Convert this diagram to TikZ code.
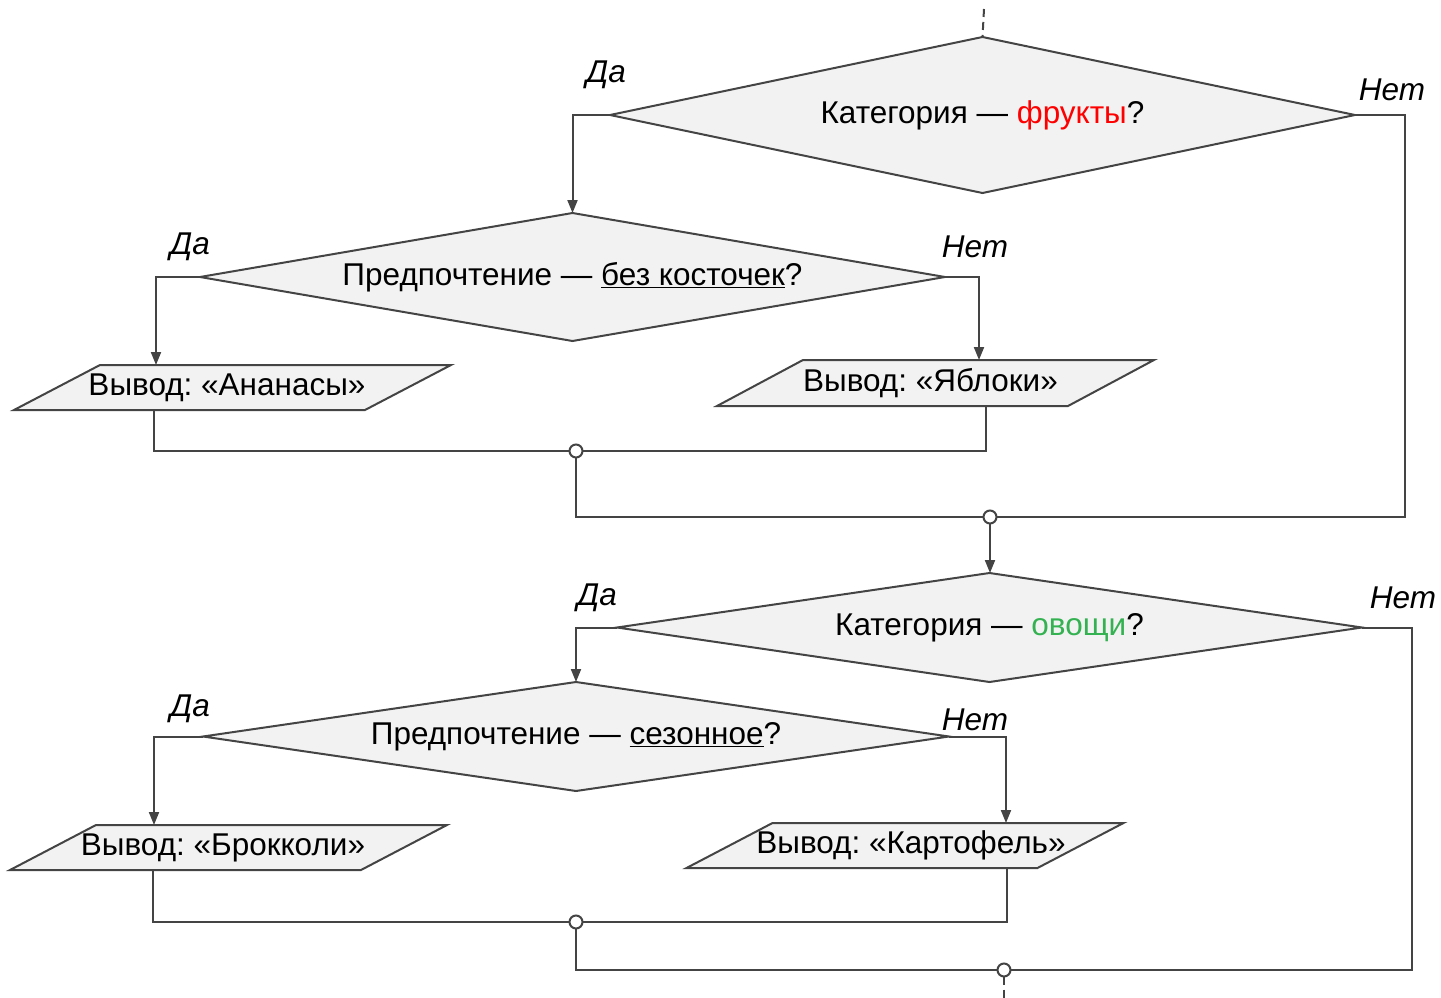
\documentclass[tikz,border=0pt]{standalone}
\usepackage{fontspec}
\setmainfont{Liberation Sans}
\usetikzlibrary{shapes.geometric,arrows.meta,backgrounds}
\definecolor{ln}{HTML}{444444}
\definecolor{fl}{HTML}{F2F2F2}
\definecolor{grn}{RGB}{52,178,82}
\frenchspacing
\tikzset{
  base/.style={line width=2pt, draw=ln},
  dec/.style={diamond, base, fill=fl, inner sep=0pt, outer sep=0pt, font=\fontsize{31.5}{36}\selectfont},
  iobox/.style={rectangle, inner sep=0pt, outer sep=0pt, minimum height=45pt, minimum width=351pt, font=\fontsize{31.5}{36}\selectfont},
  para/.style={base, fill=fl},
  junc/.style={circle, base, fill=white, minimum size=13pt, inner sep=0pt, outer sep=0pt},
  lbl/.style={font=\fontsize{31.5}{36}\selectfont\itshape, inner sep=0pt},
  conn/.style={base},
  arr/.style={base, -{Triangle[length=13pt,width=10pt]}},
  dsh/.style={base, dash pattern=on 8pt off 5pt},
}
\begin{document}
\begin{tikzpicture}[x=1pt,y=-1pt]
\useasboundingbox (0,0) rectangle (1441,998);

% decisions
\node[dec, aspect=4.78, minimum width=745pt, minimum height=156pt] (d1) at (982.5,115) {Категория — \textcolor{red}{фрукты}?};
\node[dec, aspect=5.82, minimum width=745pt, minimum height=128pt] (d2) at (572.5,277) {Предпочтение — \underline{без косточек}?};
\node[dec, aspect=6.83, minimum width=745pt, minimum height=109pt] (d3) at (989.5,627.5) {Категория — \textcolor{grn}{овощи}?};
\node[dec, aspect=6.84, minimum width=746pt, minimum height=109pt] (d4) at (576,736.5) {Предпочтение — \underline{сезонное}?};

% outputs
\node[iobox] (p1) at (232.5,387.5) {\hspace*{-11pt}Вывод: «Ананасы»};
\node[iobox, minimum height=46pt] (p2) at (935.5,383) {\hspace*{-10pt}Вывод: «Яблоки»};
\node[iobox] (p3) at (228.5,847.5) {\hspace*{-11pt}Вывод: «Брокколи»};
\node[iobox] (p4) at (905,845.5) {\hspace*{12pt}Вывод: «Картофель»};
\begin{scope}[on background layer]
\foreach \n in {p1,p2,p3,p4}
  \draw[para] ([xshift=43pt]\n.north west) -- ([xshift=43pt]\n.north east) -- ([xshift=-43pt]\n.south east) -- ([xshift=-43pt]\n.south west) -- cycle;
\end{scope}

% junctions
\node[junc] (j1) at (576,451) {};
\node[junc] (j2) at (990,517) {};
\node[junc] (j3) at (576,922) {};
\node[junc] (j4) at (1004,970) {};

% labels
\node[lbl] (l1) at (606,75) {Да};
\node[lbl] (l2) at (1392,90) {Нет};
\node[lbl] (l3) at (190,247) {Да};
\node[lbl] (l4) at (975,247) {Нет};
\node[lbl] (l5) at (597,598) {Да};
\node[lbl] (l6) at (1403,598) {Нет};
\node[lbl] (l7) at (190,709) {Да};
\node[lbl] (l8) at (975,720) {Нет};

% entry / exit
\coordinate (top) at (984,9);
\coordinate (bot) at (1004,998);
\draw[dsh] (top) -- (d1.north);
\draw[dsh] (j4.south) -- (bot);

% first block
\draw[arr] (d1.west) -| (d2.north);
\draw[conn] (d1.east) -- ++(50pt,0) |- (j2.east);
\draw[arr] (d2.west) -- ++(-44pt,0) coordinate (t1) -- (t1 |- p1.north);
\draw[arr] (d2.east) -- ++(34pt,0) coordinate (t2) -- (t2 |- p2.north);
\draw[conn] ([xshift=-79pt]p1.south) |- (j1.west);
\draw[conn] ([xshift=50.5pt]p2.south) |- (j1.east);
\draw[conn] (j1.south) |- (j2.west);
\draw[arr] (j2.south) -- (j2.south |- d3.north);

% second block
\draw[arr] (d3.west) -| (d4.north);
\draw[conn] (d3.east) -- ++(50pt,0) |- (j4.east);
\draw[arr] (d4.west) -- ++(-49pt,0) coordinate (t3) -- (t3 |- p3.north);
\draw[arr] (d4.east) -- ++(57pt,0) coordinate (t4) -- (t4 |- p4.north);
\draw[conn] ([xshift=-75.5pt]p3.south) |- (j3.west);
\draw[conn] ([xshift=102pt]p4.south) |- (j3.east);
\draw[conn] (j3.south) |- (j4.west);
\end{tikzpicture}
\end{document}
